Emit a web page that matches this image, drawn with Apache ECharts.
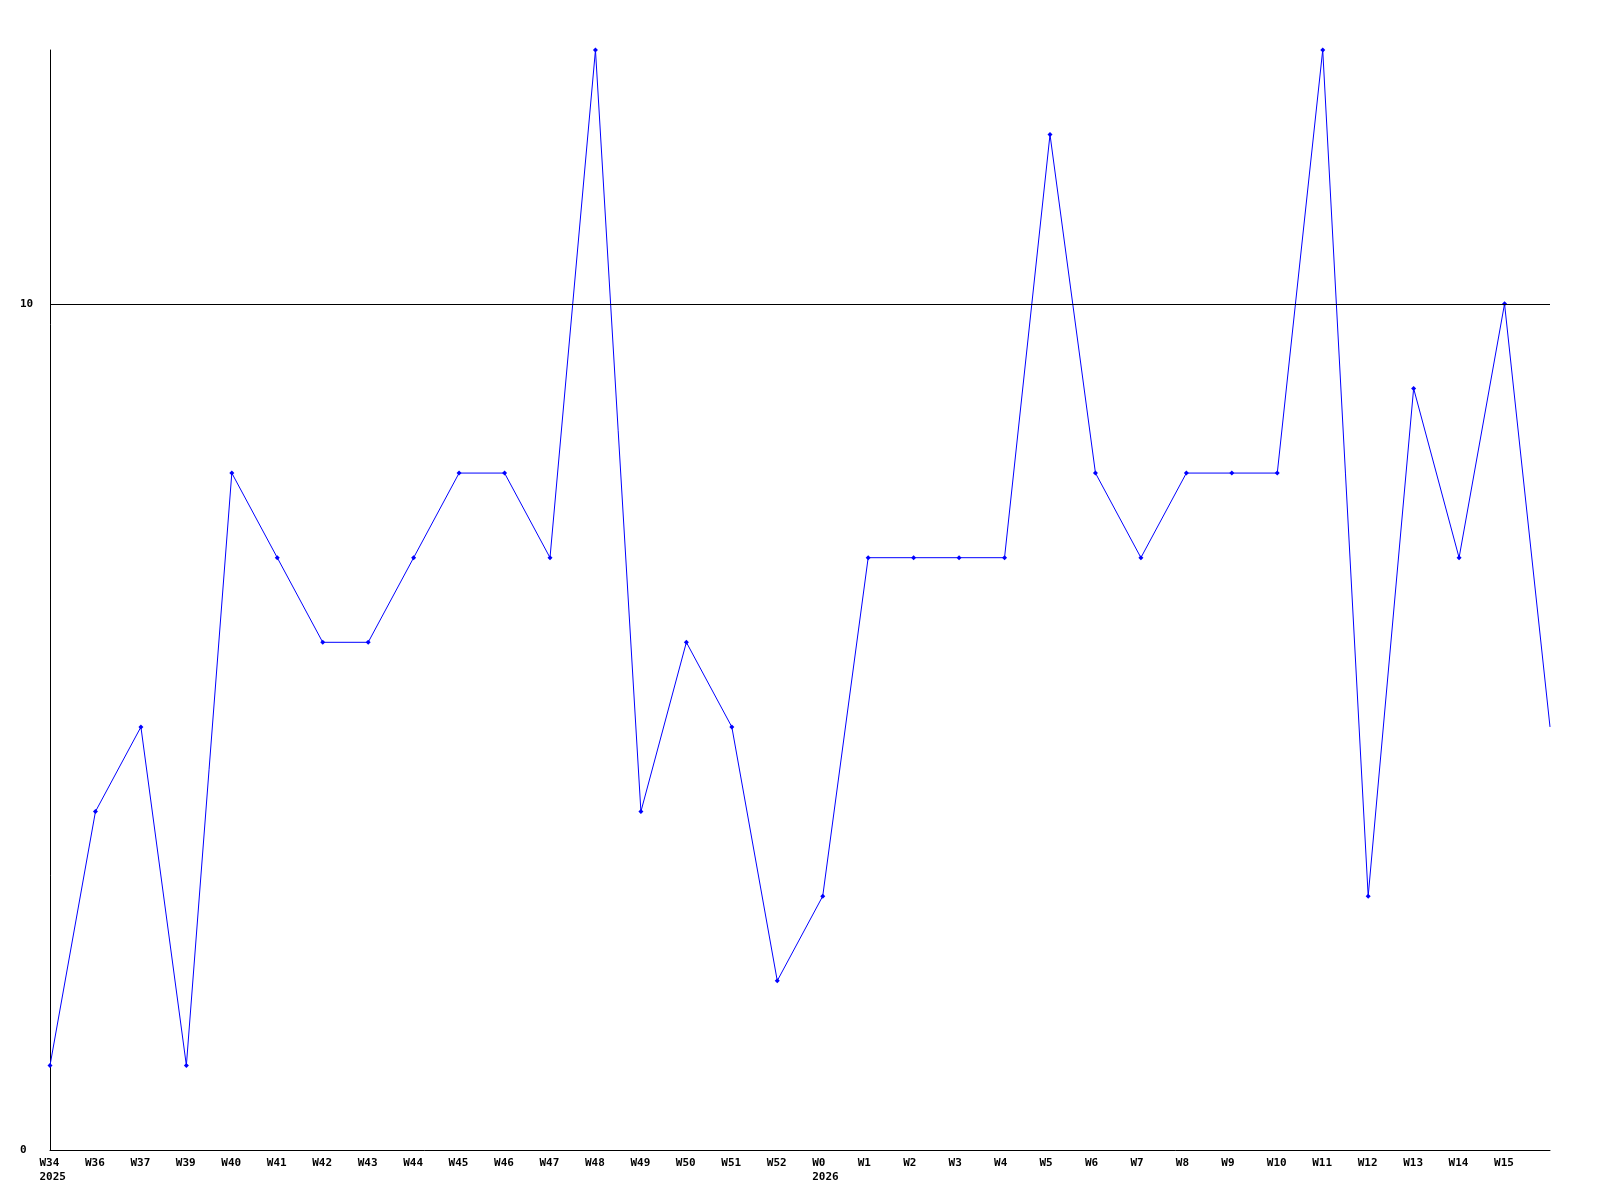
<!DOCTYPE html>
<html>
<head>
<meta charset="utf-8">
<script src="https://cdn.jsdelivr.net/npm/echarts@6/dist/echarts.min.js"></script>
<style>html,body{margin:0;padding:0;background:#fff}#c{width:1600px;height:1200px}</style>
</head>
<body>
<div id="c"></div>
<script>
const weeks = ['W34','W36','W37','W39','W40','W41','W42','W43','W44','W45','W46','W47','W48','W49','W50','W51','W52','W0','W1','W2','W3','W4','W5','W6','W7','W8','W9','W10','W11','W12','W13','W14','W15',''];
const years = {0:'2025', 17:'2026'};
const values = [1,4,5,1,8,7,6,6,7,8,8,7,13,4,6,5,2,3,7,7,7,7,12,8,7,8,8,8,13,3,9,7,10,5];
const referenceLine = 10;
const yTicks = [0, 10];

const font = 'DejaVu Sans Mono';
const seriesData = values.map((v, i) => i === values.length - 1 ? {value: v, symbol: 'none'} : v);

const chart = echarts.init(document.getElementById('c'));
chart.setOption({
  animation: false,
  backgroundColor: '#fff',
  grid: {left: 50, right: 50, top: 50, bottom: 50},
  xAxis: {
    type: 'category',
    data: weeks,
    boundaryGap: false,
    axisLine: {lineStyle: {color: '#000', width: 1}},
    axisTick: {show: false},
    splitLine: {show: false},
    axisLabel: {
      interval: 0,
      margin: 6,
      color: '#000',
      fontFamily: font,
      fontWeight: 'bold',
      fontSize: 11,
      lineHeight: 14,
      formatter: (v, i) => {
        if (!v) return '';
        return years[i] ? '{a|' + v + '}\n{a|' + years[i] + '}' : '{a|' + v + '}';
      },
      rich: {a: {width: 21, align: 'left', fontFamily: font, fontWeight: 'bold', fontSize: 11, lineHeight: 14, color: '#000'}}
    }
  },
  yAxis: {
    type: 'value',
    min: 0,
    max: 13,
    interval: 10,
    axisLine: {show: true, lineStyle: {color: '#000', width: 1}},
    axisTick: {show: false},
    splitLine: {show: false},
    axisLabel: {
      align: 'left',
      margin: 30,
      color: '#000',
      fontFamily: font,
      fontWeight: 'bold',
      fontSize: 11,
      formatter: v => yTicks.includes(v) ? String(v) : ''
    }
  },
  series: [{
    type: 'line',
    data: seriesData,
    symbol: 'diamond',
    symbolSize: 5,
    showSymbol: true,
    lineStyle: {color: '#0000ff', width: 1},
    itemStyle: {color: '#0000ff'},
    markLine: {
      silent: true,
      symbol: 'none',
      label: {show: false},
      lineStyle: {color: '#000', width: 1, type: 'solid'},
      data: [{yAxis: referenceLine}]
    }
  }]
});
</script>
</body>
</html>
